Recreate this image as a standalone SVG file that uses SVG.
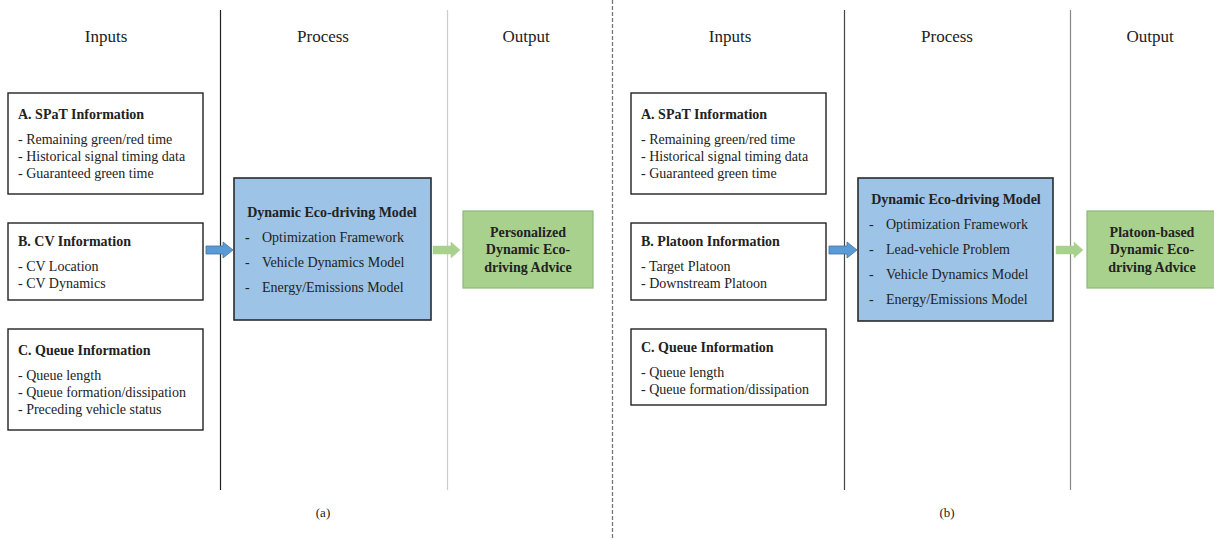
<svg xmlns="http://www.w3.org/2000/svg" width="1214" height="540" viewBox="0 0 1214 540">
<defs>
<style>
text{font-family:"Liberation Serif","Times New Roman",serif;fill:#222}
.hdr{font-size:17px;text-anchor:middle}
.t{font-size:14px;font-weight:bold}
.i{font-size:14px}
.c{text-anchor:middle}
.box{fill:#fff;stroke:#222;stroke-width:1.4}
.blue{fill:#9DC3E6;stroke:#2b2b2b;stroke-width:1.6}
.green{fill:#A9D18E;stroke:#8DB878;stroke-width:1.2}
.barrow{fill:#5B9BD5;stroke:#41719C;stroke-width:0.8}
.garrow{fill:#A9D18E;stroke:#A9D18E;stroke-width:0.5}
.cap{font-size:13px;text-anchor:middle}
</style>
</defs>
<rect width="1214" height="540" fill="#fff"/>
<g id="dividers">
<line x1="220.5" y1="10" x2="220.5" y2="490" stroke="#222" stroke-width="1.2"/>
<line x1="447.5" y1="10" x2="447.5" y2="490" stroke="#ccc" stroke-width="1.2"/>
<line x1="612.5" y1="0" x2="612.5" y2="540" stroke="#777" stroke-width="1.3" stroke-dasharray="4,2"/>
<line x1="844.5" y1="10" x2="844.5" y2="490" stroke="#444" stroke-width="1.2"/>
<line x1="1070.5" y1="10" x2="1070.5" y2="490" stroke="#888" stroke-width="1.2"/>
</g>
<g id="headers">
<text class="hdr" x="106" y="42">Inputs</text>
<text class="hdr" x="323" y="42">Process</text>
<text class="hdr" x="526" y="42">Output</text>
<text class="hdr" x="730" y="42">Inputs</text>
<text class="hdr" x="947" y="42">Process</text>
<text class="hdr" x="1150" y="42">Output</text>
</g>
<g id="a-spat">
<rect class="box" x="8" y="93" width="195" height="101"/>
<text class="t" x="18" y="119">A. SPaT Information</text>
<text class="i" x="18" y="144">- Remaining green/red time</text>
<text class="i" x="18" y="161">- Historical signal timing data</text>
<text class="i" x="18" y="178">- Guaranteed green time</text>
</g>
<g id="a-cv">
<rect class="box" x="8" y="223" width="195" height="77"/>
<text class="t" x="18" y="246">B. CV Information</text>
<text class="i" x="18" y="271">- CV Location</text>
<text class="i" x="18" y="288">- CV Dynamics</text>
</g>
<g id="a-queue">
<rect class="box" x="8" y="329" width="195" height="101"/>
<text class="t" x="18" y="355">C. Queue Information</text>
<text class="i" x="18" y="380">- Queue length</text>
<text class="i" x="18" y="397">- Queue formation/dissipation</text>
<text class="i" x="18" y="414">- Preceding vehicle status</text>
</g>
<g id="a-model">
<rect class="blue" x="234" y="178" width="197" height="142"/>
<text class="t c" x="332" y="217">Dynamic Eco-driving Model</text>
<text class="i" x="245" y="242" font-weight="bold">-</text>
<text class="i" x="262" y="242">Optimization Framework</text>
<text class="i" x="245" y="267">-</text>
<text class="i" x="262" y="267">Vehicle Dynamics Model</text>
<text class="i" x="245" y="292">-</text>
<text class="i" x="262" y="292">Energy/Emissions Model</text>
</g>
<g id="a-output">
<rect class="green" x="463" y="211" width="130" height="77"/>
<text class="t c" x="528" y="237">Personalized</text>
<text class="t c" x="528" y="254">Dynamic Eco-</text>
<text class="t c" x="528" y="272">driving Advice</text>
</g>
<g id="b-spat">
<rect class="box" x="631" y="93" width="195" height="101"/>
<text class="t" x="641" y="119">A. SPaT Information</text>
<text class="i" x="641" y="144">- Remaining green/red time</text>
<text class="i" x="641" y="161">- Historical signal timing data</text>
<text class="i" x="641" y="178">- Guaranteed green time</text>
</g>
<g id="b-platoon">
<rect class="box" x="631" y="223" width="195" height="77"/>
<text class="t" x="641" y="246">B. Platoon Information</text>
<text class="i" x="641" y="271">- Target Platoon</text>
<text class="i" x="641" y="288">- Downstream Platoon</text>
</g>
<g id="b-queue">
<rect class="box" x="631" y="329" width="195" height="76"/>
<text class="t" x="641" y="352">C. Queue Information</text>
<text class="i" x="641" y="377">- Queue length</text>
<text class="i" x="641" y="394">- Queue formation/dissipation</text>
</g>
<g id="b-model">
<rect class="blue" x="858" y="178" width="195" height="143"/>
<text class="t c" x="956" y="204">Dynamic Eco-driving Model</text>
<text class="i" x="869" y="229">-</text>
<text class="i" x="886" y="229">Optimization Framework</text>
<text class="i" x="869" y="254">-</text>
<text class="i" x="886" y="254">Lead-vehicle Problem</text>
<text class="i" x="869" y="279">-</text>
<text class="i" x="886" y="279">Vehicle Dynamics Model</text>
<text class="i" x="869" y="304">-</text>
<text class="i" x="886" y="304">Energy/Emissions Model</text>
</g>
<g id="b-output">
<rect class="green" x="1087" y="211" width="130" height="77"/>
<text class="t c" x="1152" y="237">Platoon-based</text>
<text class="t c" x="1152" y="254">Dynamic Eco-</text>
<text class="t c" x="1152" y="272">driving Advice</text>
</g>
<g id="connectors">
<polygon class="barrow" points="206,246 223,246 223,242 233,250 223,258 223,254 206,254"/>
<polygon class="garrow" points="433,246 451,246 451,242 460,250 451,258 451,254 433,254"/>
<polygon class="barrow" points="829,246 847,246 847,242 857,250 847,258 847,254 829,254"/>
<polygon class="garrow" points="1056,246 1074,246 1074,242 1083,250 1074,258 1074,254 1056,254"/>
</g>
<g id="captions">
<text class="cap" x="323" y="517">(a)</text>
<text class="cap" x="947" y="517">(b)</text>
</g>
</svg>
